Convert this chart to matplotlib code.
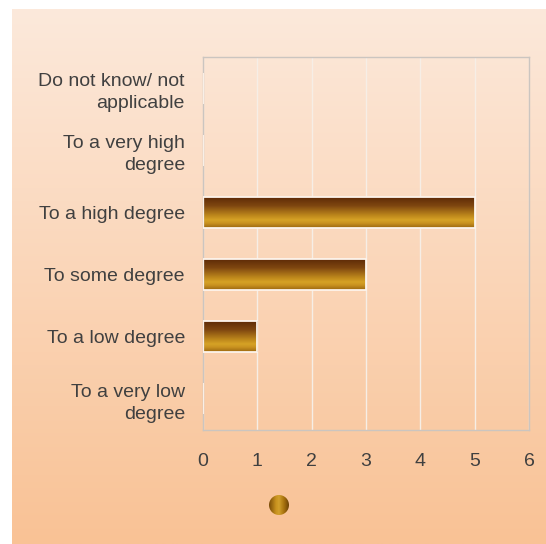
import numpy as np
import matplotlib
matplotlib.use("Agg")
from matplotlib import pyplot as plt
from matplotlib.colors import LinearSegmentedColormap
from matplotlib.patches import Circle

# survey answers, top to bottom
categories = ["Do not know/ not\napplicable", "To a very high\ndegree", "To a high degree",
              "To some degree", "To a low degree", "To a very low\ndegree"]
counts = [0, 0, 5, 3, 1, 0]
xticks = [0, 1, 2, 3, 4, 5, 6]

plt.rcParams['font.family'] = ['Liberation Sans', 'DejaVu Sans']

fig = plt.figure(figsize=(5.46, 5.44), dpi=100, facecolor='white')

# peach background panel with a vertical fade
bg = fig.add_axes([12/546, 0, 534/546, 535/544], zorder=0)
bg_cmap = LinearSegmentedColormap.from_list('bg', ['#fce9db', '#f9c295'])
bg.imshow(np.linspace(0, 1, 256).reshape(-1, 1), cmap=bg_cmap, aspect='auto',
          extent=[0, 1, 0, 1], origin='upper')
bg.axis('off')

ax = fig.add_axes([203/546, 1-430/544, 326/546, 373/544], zorder=1)
ax.patch.set_visible(False)

ypos = np.arange(len(categories))
bars = ax.barh(ypos, counts, height=0.5, color='none', edgecolor='#fdf4ec',
               linewidth=1.3, zorder=3)

# golden gradient fill for each bar
bar_cmap = LinearSegmentedColormap.from_list(
    'gold', [(0, '#5a2706'), (0.3, '#7e4610'), (0.62, '#c08a1c'),
             (0.75, '#d6a226'), (0.85, '#c99220'), (1, '#9a6610')])
grad = np.linspace(0, 1, 256).reshape(-1, 1)
for b in bars:
    x0, y0, w, h = b.get_x(), b.get_y(), b.get_width(), b.get_height()
    if w == 0:
        continue
    im = ax.imshow(grad, cmap=bar_cmap, aspect='auto', origin='upper',
                   extent=[x0, x0 + w, y0 + h, y0], zorder=2)
    im.set_clip_path(b)

ax.set_xlim(0, 6)
ax.set_ylim(5.5, -0.5)
ax.set_xticks(xticks)
ax.set_xticklabels([str(t) for t in xticks])
ax.set_yticks(ypos)
ax.set_yticklabels(categories, ha='right', multialignment='right', linespacing=1.38)
ax.tick_params(axis='x', length=0, pad=16.5, labelsize=14, labelcolor='#404040')
ax.tick_params(axis='y', length=0, pad=13, labelsize=14, labelcolor='#404040')

ax.xaxis.grid(True, color='#f6eee6', lw=1)
ax.set_axisbelow(True)
for s in ax.spines.values():
    s.set_color('#cbc5c0')
    s.set_linewidth(1)

# round legend swatch below the axis
lg = fig.add_axes([269/546, 1-515/544, 20/546, 20/544], zorder=2)
leg_cmap = LinearSegmentedColormap.from_list(
    'leg', [(0, '#7a4c08'), (0.35, '#c8921e'), (0.5, '#d2a02c'), (0.75, '#a8720e'), (1, '#6e4206')])
img = lg.imshow(np.linspace(0, 1, 256).reshape(1, -1), cmap=leg_cmap, aspect='auto',
                extent=[0, 1, 0, 1])
img.set_clip_path(Circle((0.5, 0.5), 0.5, transform=lg.transAxes))
lg.axis('off')

fig.savefig('out.png', dpi=100, facecolor='white')
